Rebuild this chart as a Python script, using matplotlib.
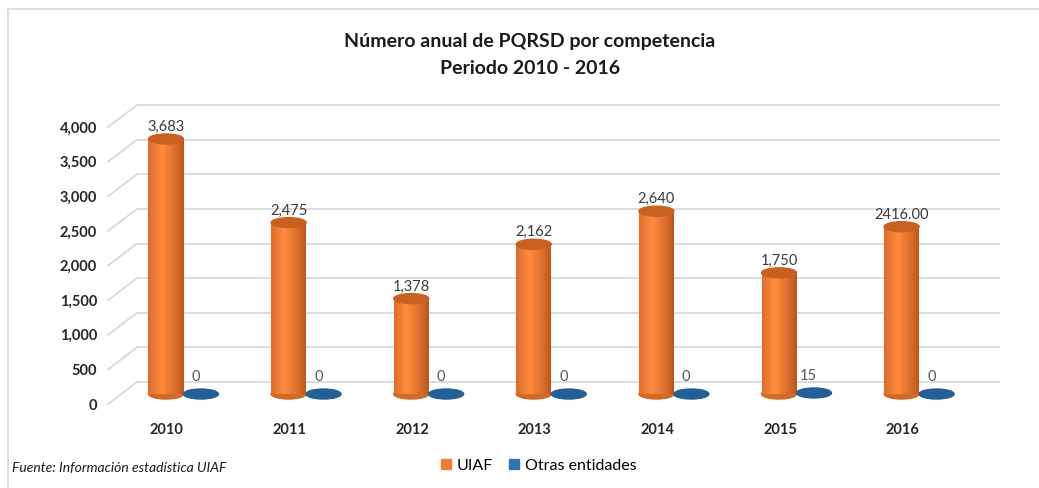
import numpy as np
import matplotlib.pyplot as plt
from matplotlib.patches import Ellipse
from matplotlib.lines import Line2D
from matplotlib.transforms import offset_copy
from matplotlib.colors import to_rgb

plt.rcParams['font.family'] = ['Lato', 'DejaVu Sans']

years = ['2010', '2011', '2012', '2013', '2014', '2015', '2016']
uiaf = [3683, 2475, 1378, 2162, 2640, 1750, 2416]
otras = [0, 0, 0, 0, 0, 15, 0]
uiaf_labels = ['3,683', '2,475', '1,378', '2,162', '2,640', '1,750', '2416.00']
otras_labels = ['0', '0', '0', '0', '0', '15', '0']
yticks = [0, 500, 1000, 1500, 2000, 2500, 3000, 3500, 4000]

fig = plt.figure(figsize=(10.39, 4.88), dpi=100)
ax = fig.add_axes([0.104, 0.1721, 0.8296, 0.5676])
ax.set_xlim(-0.48, 6.55)
ax.set_ylim(0, 4000)
for s in ax.spines.values():
    s.set_visible(False)
ax.tick_params(length=0)
ax.set_yticks(yticks)
ax.set_yticklabels([f'{v:,}' for v in yticks], fontsize=10.5, fontweight='bold', color='#262626')
ax.set_xticks(range(len(years)))
ax.set_xticklabels(years, fontsize=10.5, fontweight='bold', color='#262626')
ax.tick_params(axis='y', pad=8)
ax.tick_params(axis='x', pad=14)

# fake depth: back wall and middle plane where the cylinders stand
back = offset_copy(ax.transData, fig, x=29, y=22, units='dots')
mid = offset_copy(ax.transData, fig, x=15, y=10, units='dots')

x0, x1 = ax.get_xlim()
grid_c = '#d9d9d9'
W, H = fig.bbox.width, fig.bbox.height
for v in yticks:
    ax.plot([x0, x1], [v, v], transform=back, color=grid_c, lw=1.3, clip_on=False, zorder=1)
    px, py = ax.transData.transform((x0, v))
    fig.add_artist(Line2D([px / W, (px + 29) / W], [py / H, (py + 22) / H],
                          color=grid_c, lw=1.3, transform=fig.transFigure))

ell_h = 10 / (ax.bbox.height / 4000)  # 10 px in data units
w = 35 / (ax.bbox.width / (x1 - x0))
off_o = -0.13
off_b = 0.155

dark = np.array(to_rgb('#b9521a'))
light = np.array(to_rgb('#ff8b3d'))
n = 24
for i, v in enumerate(uiaf):
    xc = i + off_o
    ax.add_patch(Ellipse((xc, 0), w, ell_h, transform=mid, color='#d06a26', zorder=2))
    for k in range(n):
        t = (k + 0.5) / n
        f = np.clip(1 - abs(t - 0.38) / 0.62, 0, 1) ** 0.8
        c = dark + (light - dark) * f
        ax.bar(xc - w / 2 + k * w / n, v, width=w / n * 1.05, align='edge',
               color=c, transform=mid, zorder=3, lw=0)
    ax.add_patch(Ellipse((xc, v), w, ell_h, transform=mid, color='#c8601f', zorder=4))
    ax.text(xc, v + ell_h * 0.5, uiaf_labels[i], transform=mid, ha='center', va='bottom',
            fontsize=10.5, color='#3a3a3a', zorder=5)

for i, v in enumerate(otras):
    xc = i + off_b
    ax.add_patch(Ellipse((xc, v), w, ell_h, transform=mid, color='#245f96', zorder=4))
    ax.text(xc - w * 0.15, v + ell_h * 1.0, otras_labels[i], transform=mid, ha='center',
            va='bottom', fontsize=10.5, color='#595959', zorder=5)

fig.text(530 / 1039, 1 - 41 / 488, 'Número anual de PQRSD por competencia', ha='center',
         va='center', fontsize=14, fontweight='bold', color='#1a1a1a')
fig.text(530 / 1039, 1 - 68 / 488, 'Periodo 2010 - 2016', ha='center', va='center',
         fontsize=14, fontweight='bold', color='#1a1a1a')

fig.text(12 / 1039, 1 - 468 / 488, 'Fuente: Información estadística UIAF', ha='left', va='center',
         fontsize=10, style='italic', color='#1a1a1a')

h1 = plt.Rectangle((0, 0), 1, 1, color='#ed7d31')
h2 = plt.Rectangle((0, 0), 1, 1, color='#2e75b6')
fig.legend([h1, h2], ['UIAF', 'Otras entidades'], loc='center',
           bbox_to_anchor=(539 / 1039, 1 - 466 / 488), ncol=2, frameon=False, fontsize=11.5,
           handlelength=0.6, handleheight=0.6, handletextpad=0.4, columnspacing=1.0)

# outer chart frame
fig.add_artist(Line2D([8 / 1039, 8 / 1039], [0, 1 - 9 / 488], color='#d9d9d9', lw=1.2,
                      transform=fig.transFigure))
fig.add_artist(Line2D([8 / 1039, 1], [1 - 9 / 488, 1 - 9 / 488], color='#d9d9d9', lw=1.2,
                      transform=fig.transFigure))

fig.savefig('out.png', dpi=100)
